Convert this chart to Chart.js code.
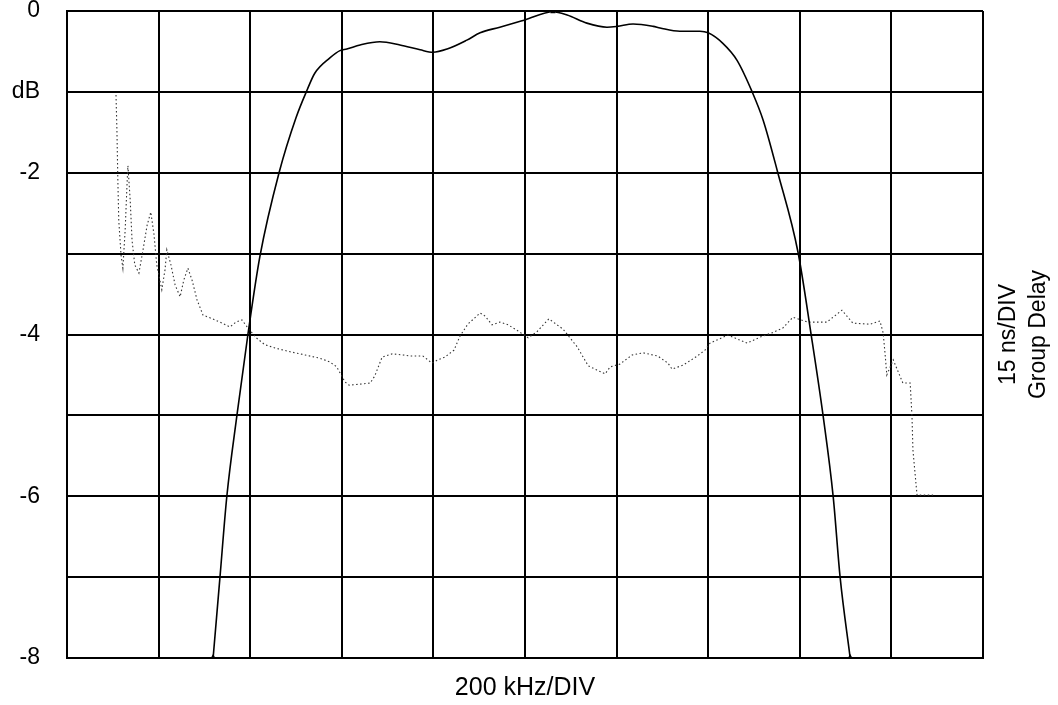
<!DOCTYPE html>
<html>
<head>
<meta charset="utf-8">
<script src="https://cdn.jsdelivr.net/npm/chart.js@4.4.1/dist/chart.umd.min.js"></script>
<style>
  html, body { margin: 0; padding: 0; background: #fff; }
  #wrap { width: 1058px; height: 705px; }
</style>
</head>
<body>
<div id="wrap"><canvas id="c" width="1058" height="705"></canvas></div>
<script>
// ---- Data ----
// Amplitude response: frequency offset (kHz) vs. attenuation (dB)
const ampFreq = [-681, -666, -651, -629, -605, -579, -537, -500, -476, -459, -426, -404, -389, -360, -317, -273, -229, -201, -170, -127, -98, -55, 0, 61, 92, 135, 179, 201, 236, 280, 295, 338, 382, 400, 432, 463, 496, 520, 552, 596, 625, 651, 673, 688, 710];
const ampDb = [-8.00, -7.00, -6.00, -5.00, -4.00, -3.04, -2.00, -1.32, -0.98, -0.77, -0.58, -0.49, -0.47, -0.42, -0.38, -0.42, -0.48, -0.51, -0.47, -0.36, -0.27, -0.20, -0.11, -0.01, -0.05, -0.15, -0.20, -0.19, -0.16, -0.19, -0.21, -0.25, -0.25, -0.27, -0.40, -0.61, -1.00, -1.35, -2.00, -2.98, -4.01, -5.01, -6.01, -7.00, -8.00];

// Group delay: frequency offset (kHz) vs. delay (ns, 15 ns/div)
const gdFreq = [-893, -891, -889, -887, -882, -878, -873, -869, -867, -862, -858, -852, -843, -834, -825, -817, -810, -804, -793, -786, -782, -773, -764, -753, -745, -736, -727, -716, -703, -688, -666, -644, -631, -618, -605, -587, -568, -546, -513, -480, -448, -426, -411, -393, -384, -360, -338, -328, -312, -290, -266, -251, -223, -203, -190, -175, -155, -142, -125, -98, -87, -72, -55, -37, -18, 7, 26, 52, 83, 98, 114, 138, 157, 175, 186, 207, 234, 258, 290, 312, 321, 345, 376, 393, 404, 443, 485, 513, 539, 563, 585, 618, 659, 692, 716, 753, 775, 782, 786, 790, 804, 825, 841, 845, 847, 852, 856, 891];
const gdNs = [104.4, 97.9, 88.7, 81.2, 74.7, 72.3, 79.4, 87.7, 91.3, 84.9, 77.5, 72.9, 71.4, 75.7, 80.3, 82.7, 78.5, 72.9, 68.3, 72.0, 75.7, 72.9, 69.2, 67.0, 70.1, 72.3, 70.1, 66.4, 63.6, 63.1, 62.3, 61.4, 62.3, 62.7, 61.2, 59.4, 58.1, 57.5, 56.8, 56.2, 55.6, 54.9, 54.0, 51.2, 50.6, 50.8, 51.0, 52.3, 55.8, 56.4, 56.2, 56.0, 56.0, 54.7, 55.3, 55.8, 57.1, 59.7, 61.9, 64.0, 63.4, 61.8, 62.3, 61.8, 60.8, 59.4, 60.5, 62.9, 61.0, 59.4, 57.7, 54.2, 53.4, 52.7, 54.0, 54.5, 56.2, 56.6, 56.0, 54.7, 53.6, 54.3, 56.0, 57.1, 58.4, 59.9, 58.4, 59.5, 60.3, 61.2, 63.2, 62.3, 62.3, 64.5, 62.1, 61.9, 62.5, 60.3, 56.6, 52.5, 55.3, 51.0, 51.0, 44.7, 38.6, 33.9, 30.2, 30.2];

// Axis labels
const yTickLabels = { "0": "0", "-1": "dB", "-2": "-2", "-4": "-4", "-6": "-6", "-8": "-8" };
const xTitle = "200 kHz/DIV";
const rightTitle = ["15 ns/DIV", "Group Delay"];

// ---- Build datasets ----
const ampPoints = ampFreq.map((f, i) => ({ x: f, y: ampDb[i] }));
const gdPoints = gdFreq.map((f, i) => ({ x: f, y: gdNs[i] }));
const peakIdx = ampDb.indexOf(Math.max(...ampDb));
const ampRadius = ampDb.map((v, i) => (i === 0 || i === ampDb.length - 1) ? 4 : (i === peakIdx ? 3 : 0));

const FONT = "'Liberation Sans', Arial, sans-serif";

const rightTitlePlugin = {
  id: 'rightTitle',
  afterDraw(chart) {
    const ctx = chart.ctx;
    const cy = (chart.chartArea.top + chart.chartArea.bottom) / 2;
    const xs = [1009, 1039];
    ctx.save();
    ctx.fillStyle = '#000';
    ctx.font = "23px " + FONT;
    ctx.textAlign = 'center';
    ctx.textBaseline = 'middle';
    rightTitle.forEach((t, i) => {
      ctx.save();
      ctx.translate(xs[i], cy);
      ctx.rotate(-Math.PI / 2);
      ctx.fillText(t, 0, 0);
      ctx.restore();
    });
    ctx.restore();
  }
};

new Chart(document.getElementById('c'), {
  type: 'line',
  data: {
    datasets: [
      {
        label: 'Amplitude',
        data: ampPoints,
        yAxisID: 'y',
        borderColor: '#000',
        backgroundColor: '#000',
        borderWidth: 1.6,
        pointStyle: 'triangle',
        pointRadius: ampRadius,
        pointBorderWidth: 0,
        pointBackgroundColor: '#000',
        cubicInterpolationMode: 'monotone',
        fill: false,
        order: 1
      },
      {
        label: 'Group Delay',
        data: gdPoints,
        yAxisID: 'y2',
        borderColor: '#333',
        borderWidth: 1.1,
        borderDash: [1.5, 2.5],
        pointRadius: 0,
        tension: 0,
        fill: false,
        order: 2
      }
    ]
  },
  options: {
    responsive: false,
    devicePixelRatio: 1,
    animation: false,
    layout: { padding: { left: 0, right: 75, top: 11, bottom: 0 } },
    plugins: { legend: { display: false }, tooltip: { enabled: false } },
    scales: {
      x: {
        type: 'linear',
        position: 'bottom',
        min: -1000,
        max: 1000,
        ticks: { display: false, stepSize: 200 },
        grid: { color: '#000', lineWidth: 2, drawTicks: false },
        border: { display: true, color: '#000', width: 2 },
        title: {
          display: true,
          text: xTitle,
          color: '#000',
          font: { family: FONT, size: 25, lineHeight: 1.2 },
          padding: { top: 15, bottom: 2 }
        }
      },
      y: {
        type: 'linear',
        position: 'left',
        min: -8,
        max: 0,
        afterFit(scale) { scale.width = 67; scale.paddingTop = 0; scale.paddingBottom = 0; },
        ticks: {
          stepSize: 1,
          padding: 27,
          color: '#000',
          font: { family: FONT, size: 23, lineHeight: 1.0 },
          callback: (v) => (yTickLabels[String(v)] !== undefined ? yTickLabels[String(v)] : '')
        },
        grid: { color: '#000', lineWidth: 2, drawTicks: false },
        border: { display: true, color: '#000', width: 2 }
      },
      y2: {
        type: 'linear',
        position: 'right',
        display: false,
        min: 0,
        max: 120
      }
    }
  },
  plugins: [rightTitlePlugin]
});
</script>
</body>
</html>
